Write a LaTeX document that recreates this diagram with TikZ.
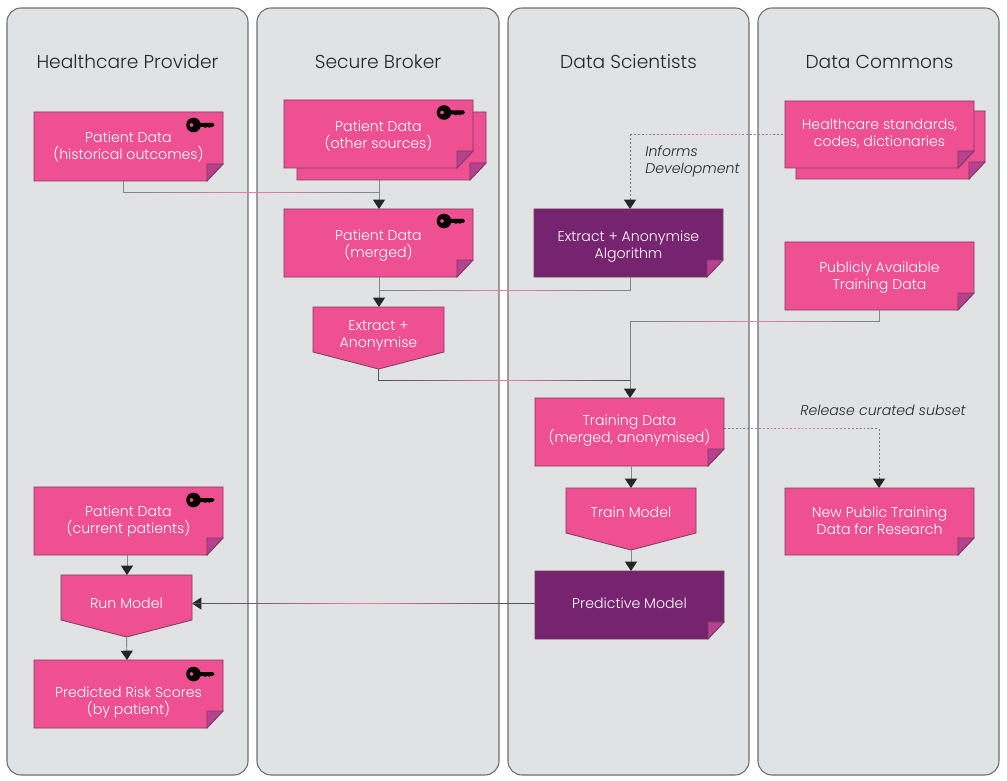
\documentclass[tikz,border=0pt]{standalone}
\usepackage{fontspec}
\setmainfont{Poppins Light}
\usetikzlibrary{arrows.meta,calc}
\definecolor{lane}{HTML}{E1E2E4}
\definecolor{lanedraw}{HTML}{6E6E6E}
\definecolor{pinkf}{HTML}{EE5092}
\definecolor{darkf}{HTML}{76246F}
\definecolor{foldf}{HTML}{B5418F}
\definecolor{edgec}{HTML}{7A3A60}
\definecolor{linec}{HTML}{858585}
\definecolor{darkline}{HTML}{555555}
\definecolor{dashline}{HTML}{777777}
\definecolor{pinkline}{HTML}{F27BB0}
\tikzset{
  x=0.75pt,y=-0.75pt,
  lanebox/.style={draw=lanedraw,line width=0.8pt,fill=lane,rounded corners=10.5pt},
  heading/.style={font=\fontsize{14}{17}\selectfont,text=black!85,anchor=center},
  boxlabel/.style={font=\fontsize{10.6}{12.75}\selectfont,text=white,align=center,inner sep=0pt},
  notelabel/.style={text=black!85,align=left,inner sep=0pt},
  shapeedge/.style={draw=edgec,line width=0.6pt,line join=miter},
  conn/.style={draw=linec,line width=0.7pt},
  connd/.style={draw=darkline,line width=0.7pt},
  dashconn/.style={draw=dashline,line width=0.6pt,dash pattern=on 1.5pt off 1.5pt},
  tip/.style={-{Triangle[length=7pt,width=9pt,color=black!85]}},
}
% \notebox{name}{x0}{y0}{x1}{y1}{fill}{text}{dy of the text}
\newcommand{\notebox}[8]{%
  \path[shapeedge,fill=#6] (#2,#3) -- (#4,#3) -- (#4,#5-17) -- (#4-16,#5) -- (#2,#5) -- cycle;
  \path[shapeedge,fill=foldf] (#4,#5-17) -- (#4-16,#5-17) -- (#4-16,#5) -- cycle;
  \node[boxlabel] (#1) at ({(#2+#4)/2},{(#3+#5)/2+#8}) {#7};
}
% \backsheet{x0}{y0}{x1}{y1}
\newcommand{\backsheet}[4]{%
  \path[shapeedge,fill=pinkf] (#1,#2) -- (#3,#2) -- (#3,#4-17) -- (#3-16,#4) -- (#1,#4) -- cycle;
  \path[shapeedge,fill=foldf] (#3,#4-17) -- (#3-16,#4-17) -- (#3-16,#4) -- cycle;
}
% \pentbox{name}{x0}{y0}{x1}{ys}{ytip}{text}{dy}
\newcommand{\pentbox}[8]{%
  \path[shapeedge,fill=pinkf] (#2,#3) -- (#4,#3) -- (#4,#5) -- ({(#2+#4)/2},#6) -- (#2,#5) -- cycle;
  \node[boxlabel] (#1) at ({(#2+#4)/2},{(#3+#5)/2+#8}) {#7};
  \coordinate (#1tip) at ({(#2+#4)/2},#6);
}
% key with head centre at (x,y)
\newcommand{\keyicon}[2]{%
  \fill[black,even odd rule] (#1,#2) circle[radius=7.3] (#1-2,#2) circle[radius=2];
  \fill[black] (#1+5,#2-2) -- (#1+19.5,#2-2) -- (#1+21,#2) -- (#1+19,#2+2.2) -- (#1+17.5,#2+1.6) -- (#1+16,#2+2.8) -- (#1+14,#2+1.8) -- (#1+12,#2+2.8) -- (#1+10,#2+2) -- (#1+5,#2+2) -- cycle;
}
% gradient over a horizontal run: #1 left, #2 right, #3 end colour, #4 segments, #5 duty, #6 width
\newcommand{\glow}[6]{%
  \foreach \i in {1,...,#4} {%
    \pgfmathtruncatemacro{\p}{100*(1-abs(2*(\i-0.5)/#4-1))^1.4}%
    \path[draw=pinkline!\p!#3,line width=#6] ($(#1)!{(\i-1)/#4}!(#2)$) -- ($(#1)!{(\i-1+#5)/#4}!(#2)$);
  }%
}
\begin{document}
\begin{tikzpicture}
\useasboundingbox (0,0) rectangle (1007,781);
\fill[white] (0,0) rectangle (1007,781);
% lanes
\node[lanebox,minimum width=180.75pt,minimum height=575.25pt] (l1) at (127.5,391.5) {};
\node[lanebox,minimum width=181.5pt,minimum height=575.25pt] (l2) at (378,391.5) {};
\node[lanebox,minimum width=180.75pt,minimum height=575.25pt] (l3) at (628.5,391.5) {};
\node[lanebox,minimum width=180.75pt,minimum height=575.25pt] (l4) at (878.5,391.5) {};
\node[heading] (h1) at (127.5,62) {Healthcare Provider};
\node[heading] (h2) at (378,62) {Secure Broker};
\node[heading] (h3) at (628.5,62) {Data Scientists};
\node[heading] (h4) at (879.5,62) {Data Commons};
% boxes
\notebox{hist}{34}{112}{223}{181}{pinkf}{Patient Data\\(historical outcomes)}{0.5}
\keyicon{193.5}{125}
\backsheet{297}{112}{486}{180}
\notebox{other}{284}{100}{473}{168}{pinkf}{Patient Data\\(other sources)}{2.5}
\keyicon{444}{112.5}
\notebox{merged}{284}{209}{473}{277}{pinkf}{Patient Data\\(merged)}{3}
\keyicon{444}{221}
\pentbox{extract}{313}{307}{444}{352}{369}{Extract +\\Anonymise}{6}
\notebox{algo}{534}{209}{723}{277}{darkf}{Extract + Anonymise\\Algorithm}{3.5}
\backsheet{796}{111}{985}{179}
\notebox{stds}{785}{101}{974}{168}{pinkf}{Healthcare standards,\\codes, dictionaries}{-1}
\notebox{public}{785}{242}{974}{310}{pinkf}{Publicly Available\\Training Data}{2}
\notebox{train}{535}{398}{724}{466}{pinkf}{Training Data\\(merged, anonymised)}{-1}
\pentbox{trainm}{566}{488}{696}{533}{550}{Train Model}{2}
\notebox{pred}{535}{571}{724}{639}{darkf}{Predictive Model}{-2}
\notebox{newpub}{785}{488}{974}{555}{pinkf}{New Public Training\\Data for Research}{-1}
\notebox{curr}{34}{487}{223}{555}{pinkf}{Patient Data\\(current patients)}{0.5}
\keyicon{193.5}{500}
\pentbox{run}{61}{575}{192}{620}{637}{Run Model}{6}
\notebox{risk}{34}{660}{223}{728}{pinkf}{Predicted Risk Scores\\(by patient)}{8.5}
\keyicon{193.5}{674}
% junction coordinates
\coordinate (histout) at (123,181);
\coordinate (histc) at (123,192.5);
\coordinate (mergec) at (379,192.5);
\coordinate (otherout) at (379,180);
\coordinate (mergein) at (379,209);
\coordinate (mergeout) at (379,277);
\coordinate (extin) at (379,307);
\coordinate (algoout) at (630,277);
\coordinate (algoc) at (630,290.5);
\coordinate (mergej) at (379,290.5);
\coordinate (stdout) at (785,134.5);
\coordinate (stdc) at (630,134.5);
\coordinate (algoin) at (630,209);
\coordinate (pubout) at (879,310);
\coordinate (pubc) at (879,321.5);
\coordinate (pubd) at (630,321.5);
\coordinate (trainin) at (630,398);
\coordinate (extc) at (379,380.5);
\coordinate (extd) at (630,380.5);
\coordinate (trainout) at (631,466);
\coordinate (tmin) at (631,488);
\coordinate (predin) at (631,571);
\coordinate (relout) at (724,428.5);
\coordinate (relc) at (879,428.5);
\coordinate (relin) at (879,488);
\coordinate (predout) at (535,603.5);
\coordinate (runin) at (192,603.5);
\coordinate (currout) at (127,555);
\coordinate (runt) at (127,575);
\coordinate (riskin) at (127,660);
% connectors
\draw[conn] (histout) -- (histc) -- (mergec);
\glow{histc}{mergec}{linec}{40}{1.1}{0.7pt}
\draw[conn,tip] (otherout) -- (mergein);
\draw[conn,tip] (mergeout) -- (extin);
\draw[conn] (algoout) -- (algoc) -- (mergej);
\glow{mergej}{algoc}{linec}{40}{1.1}{0.7pt}
\draw[conn] (pubout) -- (pubc) -- (pubd);
\glow{pubd}{pubc}{linec}{40}{1.1}{0.7pt}
\draw[conn,tip] (pubd) -- (trainin);
\draw[connd] (extracttip) -- (extracttip|-extc) -- (extd);
\glow{extc}{extd}{darkline}{40}{1.1}{0.7pt}
\draw[conn,tip] (trainout) -- (tmin);
\draw[conn,tip] (trainmtip) -- (predin);
\draw[dashconn,tip] (stdc) -- (algoin);
\glow{stdc}{stdout}{dashline}{40}{0.5}{0.6pt}
\draw[dashconn,tip] (relc) -- (relin);
\glow{relout}{relc}{dashline}{40}{0.5}{0.6pt}
\draw[connd,tip] (predout) -- (runin);
\glow{runin}{predout}{darkline}{60}{1.1}{0.7pt}
\draw[conn,tip] (currout) -- (runt);
\draw[conn,tip] (runtip) -- (riskin);
% notes
\node[notelabel,anchor=north west,font=\fontsize{10.6}{12.75}\selectfont\itshape] (n1) at (645,146) {Informs\\Development};
\node[notelabel,anchor=west,font=\fontsize{10.6}{12.75}\selectfont\itshape] (n2) at (800,410) {Release curated subset};
\end{tikzpicture}
\end{document}
